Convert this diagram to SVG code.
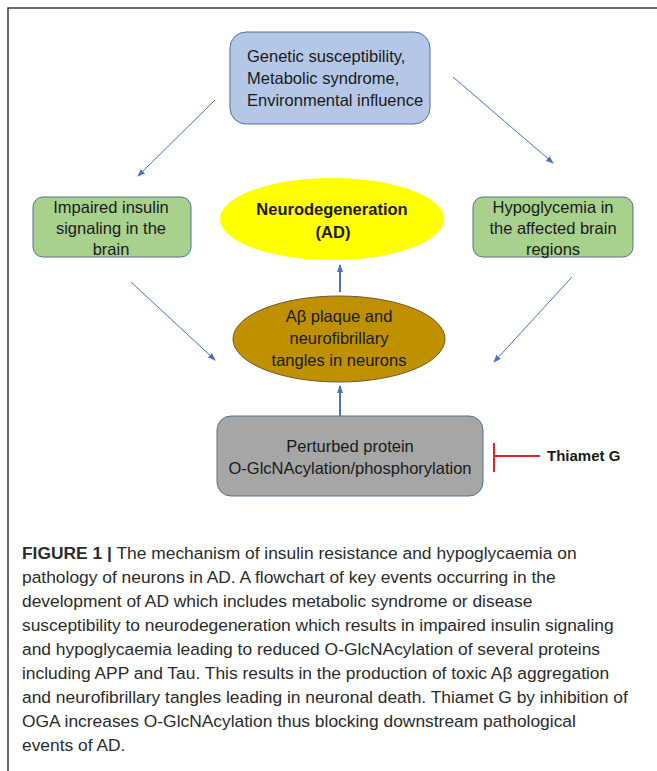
<svg xmlns="http://www.w3.org/2000/svg" width="657" height="771" viewBox="0 0 657 771">
<defs>
<marker id="ah" markerWidth="8" markerHeight="8" refX="7" refY="4" orient="auto" markerUnits="userSpaceOnUse">
<path d="M0,1 L8,4 L0,7 Z" fill="#4472c4"/>
</marker>
<style>
.t{font-family:"Liberation Sans",Arial,sans-serif;font-size:16.5px;fill:#1a1a1a}
.b{font-weight:bold}
.c{text-anchor:middle}
.cap{font-family:"Liberation Sans",Arial,sans-serif;font-size:17.4px;fill:#2b2b2b}
.arr{stroke:#4472c4;stroke-width:1;fill:none}
.arr2{stroke:#4472c4;stroke-width:2;fill:none}
</style>
</defs>
<rect width="657" height="771" fill="#ffffff"/>
<rect x="8" y="8" width="700" height="800" fill="none" stroke="#3a3a3a" stroke-width="1.5"/>

<g id="connectors">
<line class="arr" x1="215" y1="100" x2="138" y2="176" marker-end="url(#ah)"/>
<line class="arr" x1="453" y1="77" x2="553" y2="163" marker-end="url(#ah)"/>
<line class="arr" x1="131" y1="282" x2="215" y2="360" marker-end="url(#ah)"/>
<line class="arr" x1="572" y1="277" x2="494" y2="362" marker-end="url(#ah)"/>
<line class="arr2" x1="340" y1="292" x2="340" y2="265" marker-end="url(#ah)"/>
<line class="arr2" x1="340" y1="416" x2="340" y2="386" marker-end="url(#ah)"/>
<line x1="494" y1="443" x2="494" y2="472" stroke="#e8202a" stroke-width="2"/>
<line x1="494" y1="456" x2="540" y2="456" stroke="#e8202a" stroke-width="2"/>
</g>

<g id="n-causes">
<rect x="230" y="32" width="200" height="92" rx="16" fill="#b4c7e7" stroke="#4e6f9f" stroke-width="1"/>
<text class="t" x="247" y="62">Genetic susceptibility,</text>
<text class="t" x="247" y="84">Metabolic syndrome,</text>
<text class="t" x="247" y="106">Environmental influence</text>
</g>

<g id="n-insulin">
<rect x="33" y="197" width="158" height="60" rx="10" fill="#a9d18e" stroke="#56728a" stroke-width="1"/>
<text class="t c" x="111" y="213">Impaired insulin</text>
<text class="t c" x="111" y="234">signaling  in the</text>
<text class="t c" x="111" y="255">brain</text>
</g>

<g id="n-hypo">
<rect x="473" y="197" width="160" height="60" rx="10" fill="#a9d18e" stroke="#56728a" stroke-width="1"/>
<text class="t c" x="553" y="213">Hypoglycemia in</text>
<text class="t c" x="553" y="234">the affected brain</text>
<text class="t c" x="553" y="255">regions</text>
</g>

<g id="n-neuro">
<ellipse cx="332" cy="219" rx="112" ry="41" fill="#ffff00"/>
<text class="t b c" x="332" y="215">Neurodegeneration</text>
<text class="t b c" x="333" y="238">(AD)</text>
</g>

<g id="n-plaque">
<ellipse cx="339" cy="339" rx="106" ry="43" fill="#bf9000" stroke="#6f5a2a" stroke-width="1"/>
<text class="t c" x="339" y="322">Aβ plaque and</text>
<text class="t c" x="339" y="344">neurofibrillary</text>
<text class="t c" x="339" y="366">tangles in neurons</text>
</g>

<g id="n-perturbed">
<rect x="217" y="416" width="266" height="80" rx="14" fill="#a6a6a6" stroke="#56728a" stroke-width="1"/>
<text class="t c" x="350" y="452">Perturbed protein</text>
<text class="t c" x="350" y="474">O-GlcNAcylation/phosphorylation</text>
</g>

<g id="n-thiamet">
<text class="t b" x="547" y="461" style="font-size:15px">Thiamet G</text>
</g>

<g id="caption">
<text class="cap" x="22" y="559"><tspan font-weight="bold">FIGURE 1 |</tspan> The mechanism of insulin resistance and hypoglycaemia on</text>
<text class="cap" x="22" y="583">pathology of neurons in AD. A flowchart of key events occurring in the</text>
<text class="cap" x="22" y="607">development of AD which includes metabolic syndrome or disease</text>
<text class="cap" x="22" y="631">susceptibility to neurodegeneration which results in impaired insulin signaling</text>
<text class="cap" x="22" y="655">and hypoglycaemia leading to reduced O-GlcNAcylation of several proteins</text>
<text class="cap" x="22" y="679">including APP and Tau. This results in the production of toxic Aβ aggregation</text>
<text class="cap" x="22" y="703">and neurofibrillary tangles leading in neuronal death. Thiamet G by inhibition of</text>
<text class="cap" x="22" y="727">OGA increases O-GlcNAcylation thus blocking downstream pathological</text>
<text class="cap" x="22" y="751">events of AD.</text>
</g>
</svg>
